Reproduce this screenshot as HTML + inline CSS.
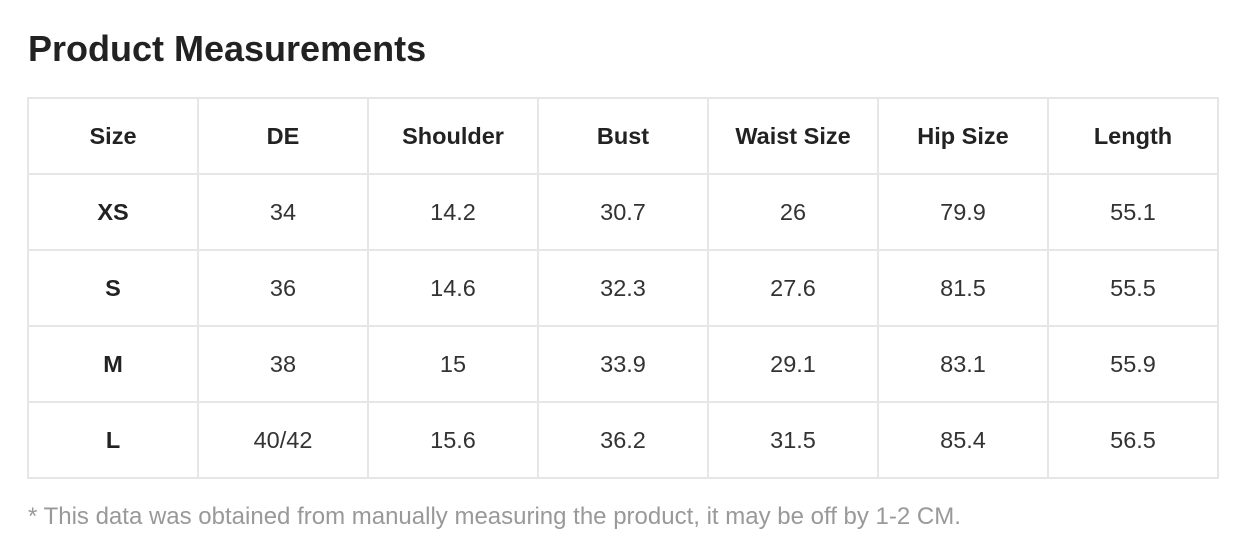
<!DOCTYPE html>
<html><head><style>
body{margin:0;width:1241px;height:552px;background:#fff;font-family:"Liberation Sans",Arial,sans-serif;position:relative;overflow:hidden}
h1{position:absolute;left:28px;top:28px;margin:0;font-size:36px;font-weight:bold;color:#222}
table{position:absolute;left:27px;top:97px;border-collapse:collapse;width:1192px}
td{border:2px solid #e6e6e6;height:74px;width:166px;text-align:center;font-size:23.5px;color:#333;padding:0}
tr:first-child td,td:first-child{font-weight:bold;color:#222}
p{position:absolute;left:28px;top:503px;margin:0;font-size:24px;color:#999}
</style></head><body>
<h1>Product Measurements</h1>
<table>
<tr><td>Size</td><td>DE</td><td>Shoulder</td><td>Bust</td><td>Waist Size</td><td>Hip Size</td><td>Length</td></tr>
<tr><td>XS</td><td>34</td><td>14.2</td><td>30.7</td><td>26</td><td>79.9</td><td>55.1</td></tr>
<tr><td>S</td><td>36</td><td>14.6</td><td>32.3</td><td>27.6</td><td>81.5</td><td>55.5</td></tr>
<tr><td>M</td><td>38</td><td>15</td><td>33.9</td><td>29.1</td><td>83.1</td><td>55.9</td></tr>
<tr><td>L</td><td>40/42</td><td>15.6</td><td>36.2</td><td>31.5</td><td>85.4</td><td>56.5</td></tr>
</table>
<p>* This data was obtained from manually measuring the product, it may be off by 1-2 CM.</p>
</body></html>
